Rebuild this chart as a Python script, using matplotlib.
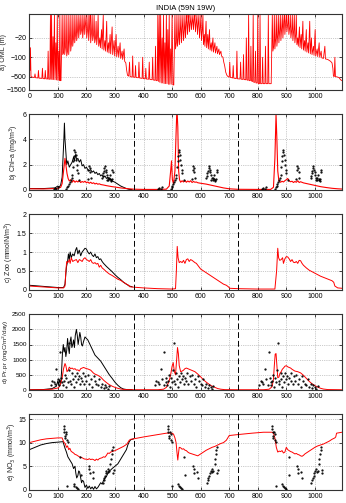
import matplotlib
matplotlib.use("Agg")
import matplotlib.pyplot as plt
import numpy as np

plt.rcParams['font.family'] = ['Liberation Sans', 'DejaVu Sans']

# a) mixed layer depth (m, positive down), day / depth pairs
mld_day = [0, 2, 4, 6, 10, 18, 20, 22, 30, 32, 34, 44, 46, 48, 54, 56, 58, 64, 66, 68,
           72, 74, 76, 78, 80, 83, 85, 88, 90, 93, 95, 98, 100, 103, 105, 107, 109, 111, 113, 115,
           117, 120, 122, 124, 127, 129, 131, 134, 136, 138, 141, 143, 145, 148, 150, 152, 155, 157, 159, 162,
           164, 166, 169, 171, 173, 176, 178, 180, 183, 185, 187, 190, 192, 194, 197, 199, 201, 204, 206, 208,
           211, 213, 215, 218, 220, 222, 225, 227, 229, 232, 234, 236, 239, 241, 243, 247, 249, 253, 255, 259,
           261, 265, 267, 271, 273, 277, 279, 283, 285, 290, 292, 297, 299, 304, 306, 311, 313, 318, 320, 325,
           327, 332, 334, 338, 341, 344, 348, 351, 353, 360, 362, 364,
           370, 372, 374, 382, 384, 386, 395, 397, 399, 406, 408, 410, 418, 420, 422, 430, 432, 434, 440, 442,
           444, 448, 450, 452, 455, 457, 460, 462, 465, 467, 470, 472, 475, 477, 480, 482, 485, 487, 490, 492,
           495, 497, 500, 503, 506, 508, 510, 512, 515, 517, 519, 522, 524, 526, 529, 531, 533, 536, 538, 540,
           543, 545, 547, 550, 552, 554, 557, 559, 561, 564, 566, 568, 571, 573, 575, 578, 580, 582, 585, 587,
           589, 592, 594, 596, 599, 601, 603, 606, 608, 610, 613, 615, 619, 621, 625, 627, 631, 633, 637, 639,
           643, 645, 650, 652, 657, 659, 664, 666, 671, 673, 678, 681, 684, 688, 692, 696, 700, 702, 704, 712,
           714, 716, 725, 727, 729,
           738, 740, 742, 748, 750, 752, 758, 760, 762, 766, 768, 770, 774, 776, 778, 782, 784, 786, 790, 792,
           794, 798, 800, 802, 806, 808, 810, 815, 817, 819, 825, 827, 829, 835, 837, 839, 845, 847, 849, 851,
           853, 856, 858, 860, 863, 865, 867, 870, 872, 874, 877, 879, 881, 884, 886, 888, 891, 893, 895, 898,
           900, 902, 905, 907, 909, 912, 914, 916, 919, 921, 923, 926, 928, 930, 933, 935, 937, 940, 942, 946,
           948, 952, 954, 958, 960, 964, 966, 970, 972, 976, 978, 982, 984, 988, 990, 995, 997, 1001, 1003, 1008,
           1010, 1015, 1017, 1022, 1024, 1030, 1035, 1037, 1045, 1050, 1055, 1060, 1063, 1065, 1068, 1070, 1072, 1080, 1085, 1090,
           1095]
mld_m = [150, 300, 45, 500, 520, 540, 400, 550, 560, 300, 570, 580, 250, 590, 600, 300, 600, 610, 60, 620,
         620, 3, 630, 3, 640, 18, 640, 3, 650, 30, 660, 3, 680, 60, 690, 3, 700, 700, 60, 3,
         80, 70, 3, 80, 40, 3, 90, 60, 3, 80, 20, 3, 60, 30, 3, 40, 20, 3, 30, 15,
         3, 25, 10, 3, 20, 8, 3, 15, 10, 3, 20, 8, 3, 15, 6, 3, 20, 10, 3, 25,
         8, 3, 30, 12, 3, 25, 15, 3, 30, 20, 5, 35, 15, 3, 40, 20, 45, 10, 50, 3,
         55, 25, 60, 5, 65, 30, 70, 15, 75, 8, 80, 25, 90, 15, 95, 40, 100, 30, 110, 60,
         120, 50, 140, 160, 300, 450, 480, 150, 500, 520, 90, 520,
         530, 200, 540, 550, 150, 560, 580, 100, 590, 600, 250, 610, 620, 150, 630, 650, 100, 660, 680, 40,
         700, 700, 3, 750, 3, 800, 3, 850, 20, 850, 3, 900, 30, 900, 3, 900, 10, 950, 3, 950,
         50, 950, 3, 1000, 1000, 40, 3, 50, 30, 3, 40, 20, 3, 35, 10, 3, 30, 8, 3, 25,
         10, 3, 20, 5, 3, 15, 5, 3, 12, 5, 3, 10, 5, 3, 10, 4, 3, 12, 5, 3,
         15, 6, 3, 20, 8, 3, 25, 10, 3, 35, 15, 40, 5, 45, 15, 50, 10, 55, 30, 60,
         20, 65, 30, 70, 40, 75, 50, 80, 60, 90, 100, 150, 200, 350, 450, 500, 520, 150, 530, 560,
         200, 570, 590, 60, 600,
         610, 150, 620, 630, 80, 640, 650, 20, 660, 680, 3, 700, 700, 40, 720, 750, 3, 800, 800, 60,
         850, 850, 3, 900, 900, 3, 900, 900, 100, 900, 900, 40, 900, 900, 3, 900, 900, 900, 50, 3,
         60, 40, 3, 50, 20, 3, 40, 15, 3, 30, 10, 3, 25, 8, 3, 20, 5, 3, 15, 5,
         3, 12, 6, 3, 15, 8, 3, 20, 10, 3, 25, 10, 3, 30, 15, 3, 35, 20, 40, 8,
         45, 15, 50, 5, 55, 25, 60, 10, 65, 30, 70, 5, 75, 20, 80, 40, 85, 10, 90, 50,
         95, 30, 100, 60, 105, 110, 40, 115, 120, 130, 140, 160, 250, 480, 500, 100, 500, 520, 550, 650,
         700]

# b) chlorophyll-a (mg/m3)
chl_day = [0, 50, 90, 100, 110, 115, 120, 125, 128, 132, 136, 140, 145, 150, 155, 160, 165, 170, 175, 180,
           185, 190, 195, 200, 205, 210, 215, 220, 225, 230, 235, 240, 245, 250, 260, 270, 280, 290, 300, 320,
           340, 365, 400, 450, 480, 490, 495, 498, 501, 505, 510, 514, 517, 520, 523, 526, 530, 535, 540, 545,
           550, 555, 560, 565, 570, 575, 580, 585, 590, 600, 620, 640, 660, 680, 700, 730, 800, 845, 855, 860,
           864, 867, 870, 874, 880, 885, 890, 895, 900, 905, 910, 915, 920, 925, 930, 935, 940, 945, 950, 960,
           980, 1000, 1020, 1040, 1060, 1080, 1095]
chl_red = [0.08, 0.07, 0.1, 0.12, 0.2, 0.5, 1.5, 2.5, 2.0, 1.3, 0.9, 0.7, 0.8, 0.6, 0.75, 0.6, 0.7, 0.62, 0.72, 0.58,
           0.66, 0.6, 0.68, 0.56, 0.62, 0.52, 0.6, 0.5, 0.56, 0.46, 0.52, 0.44, 0.48, 0.42, 0.38, 0.33, 0.29, 0.25, 0.22, 0.15,
           0.1, 0.05, 0.03, 0.03, 0.05, 0.3, 1.5, 2.3, 0.8, 0.5, 1.5, 4.5, 6.5, 5.0, 1.5, 0.8, 0.6, 0.72, 0.62, 0.74,
           0.6, 0.7, 0.62, 0.72, 0.58, 0.66, 0.6, 0.62, 0.56, 0.52, 0.45, 0.35, 0.25, 0.15, 0.08, 0.04, 0.03, 0.03, 0.2, 2.5,
           6.0, 4.0, 1.5, 0.7, 0.6, 0.68, 0.62, 0.72, 0.8, 0.9, 0.7, 0.64, 0.68, 0.58, 0.66, 0.6, 0.72, 0.58, 0.64, 0.55,
           0.45, 0.35, 0.25, 0.18, 0.12, 0.08, 0.06]
chl1_day = [0, 50, 90, 100, 105, 110, 115, 118, 121, 123, 125, 128, 131, 135, 140, 145, 150, 155, 158, 162,
            166, 170, 175, 180, 185, 190, 195, 200, 205, 210, 215, 220, 225, 230, 235, 240, 245, 250, 255, 260,
            265, 270, 275, 280, 285, 290, 300, 310, 320, 330, 340, 350, 360]
chl1 = [0.1, 0.1, 0.15, 0.3, 0.2, 0.4, 1.0, 2.5, 4.0, 5.3, 4.0, 3.0, 2.0, 2.3, 1.8, 2.0, 2.2, 2.6, 2.3, 2.8,
        2.4, 2.5, 2.2, 2.4, 1.9, 2.0, 1.7, 1.8, 1.6, 1.5, 1.6, 1.4, 1.5, 1.3, 1.4, 1.2, 1.3, 1.1, 1.2, 1.0,
        1.1, 0.9, 1.0, 0.8, 0.85, 0.7, 0.6, 0.45, 0.3, 0.2, 0.1, 0.03, 0.02]
chl_obs_doy = [85, 90, 95, 100, 130, 133, 136, 139, 142, 145, 148, 150, 152, 154, 156, 158, 160, 162, 164, 166,
               168, 170, 175, 205, 207, 209, 211, 213, 215, 255, 257, 259, 261, 263, 265, 267, 269, 271, 273, 275,
               277, 279, 281, 283, 285, 287, 289, 291, 293]
chl_obs = [0.1, 0.15, 0.05, 0.2, 0.1, 0.2, 0.3, 0.45, 0.6, 0.75, 0.9, 1.2, 1.8, 2.3, 2.7, 3.2, 3.0, 2.8, 2.4, 2.0,
           1.6, 1.3, 0.8, 0.85, 1.6, 1.9, 1.7, 1.4, 0.9, 0.9, 1.1, 1.3, 1.5, 1.7, 1.9, 1.6, 1.4, 1.2, 0.8, 0.9,
           0.75, 0.9, 1.2, 0.85, 0.8, 0.7, 0.85, 1.6, 1.4]

# c) zooplankton (mmolN/m3)
zoo_day = [0, 20, 40, 60, 80, 100, 120, 125, 128, 131, 135, 140, 143, 147, 152, 158, 165, 170, 175, 180,
           185, 190, 195, 200, 205, 210, 215, 220, 225, 230, 235, 240, 245, 250, 255, 260, 270, 280, 290, 300,
           310, 320, 330, 340, 348, 352, 365, 400, 450, 500, 512, 515, 518, 521, 525, 530, 535, 540, 545, 550,
           555, 560, 565, 570, 575, 580, 585, 590, 595, 600, 610, 620, 630, 640, 650, 660, 670, 680, 690, 697,
           702, 730, 800, 860, 866, 870, 873, 877, 882, 887, 890, 895, 900, 905, 910, 915, 920, 925, 930, 935,
           940, 945, 950, 955, 960, 970, 980, 990, 1000, 1010, 1020, 1030, 1040, 1050, 1060, 1066, 1070, 1080, 1095]
zoo_red = [0.1, 0.09, 0.08, 0.07, 0.06, 0.05, 0.05, 0.1, 0.5, 0.75, 0.72, 0.8, 0.7, 0.85, 0.75, 0.78, 0.8, 0.72, 0.8, 0.78,
           0.75, 0.82, 0.85, 0.8, 0.78, 0.75, 0.8, 0.72, 0.7, 0.72, 0.68, 0.7, 0.6, 0.65, 0.58, 0.55, 0.48, 0.42, 0.38, 0.33,
           0.28, 0.25, 0.2, 0.15, 0.12, 0.08, 0.07, 0.05, 0.03, 0.02, 0.03, 0.5, 1.15, 0.85, 0.72, 0.75, 0.72, 0.78, 0.7, 0.8,
           0.82, 0.75, 0.8, 0.78, 0.75, 0.72, 0.7, 0.65, 0.6, 0.55, 0.5, 0.45, 0.4, 0.35, 0.3, 0.25, 0.2, 0.15, 0.12, 0.08,
           0.04, 0.03, 0.02, 0.02, 0.5, 1.1, 0.85, 0.78, 0.8, 0.85, 0.7, 0.82, 0.88, 0.87, 0.82, 0.75, 0.8, 0.73, 0.72, 0.75,
           0.7, 0.78, 0.77, 0.7, 0.65, 0.58, 0.52, 0.48, 0.44, 0.4, 0.36, 0.33, 0.3, 0.27, 0.24, 0.2, 0.1, 0.05, 0.04]
zoo1_day = [0, 50, 100, 120, 125, 130, 134, 137, 140, 143, 147, 152, 157, 162, 166, 170, 175, 180, 185, 190,
            195, 200, 205, 210, 215, 220, 225, 230, 235, 240, 245, 250, 255, 260, 270, 280, 290, 300, 310, 320,
            330, 340, 350, 360]
zoo1 = [0.12, 0.09, 0.06, 0.06, 0.15, 0.6, 0.75, 0.95, 0.8, 1.0, 0.85, 0.95, 0.9, 1.05, 1.12, 0.95, 1.05, 0.9, 1.0, 1.05,
        1.1, 1.08, 1.0, 0.95, 1.0, 0.92, 0.88, 0.95, 0.85, 0.88, 0.8, 0.82, 0.75, 0.7, 0.62, 0.55, 0.48, 0.4, 0.33, 0.27,
        0.2, 0.15, 0.1, 0.08]

# d) primary production (mgC/m2/day)
pp_day = [0, 50, 80, 100, 105, 110, 115, 120, 125, 128, 132, 136, 140, 145, 150, 155, 160, 165, 170, 175,
          180, 185, 190, 195, 200, 205, 210, 215, 220, 225, 230, 240, 250, 260, 270, 280, 290, 300, 310, 320,
          335, 365, 450, 470, 480, 490, 495, 500, 504, 508, 512, 516, 519, 522, 525, 530, 535, 540, 545, 550,
          555, 560, 570, 580, 590, 600, 610, 620, 630, 640, 650, 660, 670, 685, 730, 820, 840, 850, 855, 858,
          861, 864, 867, 870, 874, 878, 882, 886, 890, 895, 900, 905, 910, 915, 920, 930, 940, 950, 960, 970,
          980, 990, 1000, 1010, 1020, 1030, 1045, 1095]
pp_red = [0, 5, 20, 60, 100, 200, 400, 700, 870, 800, 600, 650, 750, 700, 720, 680, 700, 650, 660, 620,
          700, 720, 740, 720, 700, 690, 670, 650, 600, 550, 520, 480, 420, 320, 240, 170, 120, 80, 50, 25,
          8, 2, 2, 20, 80, 300, 500, 780, 900, 600, 500, 1000, 1400, 1200, 800, 600, 620, 650, 700, 720,
          700, 680, 640, 600, 520, 430, 330, 250, 180, 120, 80, 40, 20, 5, 2, 2, 20, 100, 350, 800,
          1180, 1200, 800, 400, 420, 550, 600, 680, 720, 780, 800, 760, 740, 720, 680, 620, 600, 560, 480, 380,
          280, 200, 140, 90, 50, 25, 8, 2]
pp1_day = [0, 50, 80, 95, 100, 103, 106, 110, 113, 116, 119, 122, 125, 128, 131, 134, 137, 140, 143, 146,
           149, 152, 155, 158, 161, 165, 168, 171, 174, 177, 180, 183, 186, 190, 195, 200, 205, 210, 215, 220,
           230, 240, 245, 250, 260, 270, 280, 290, 300, 310, 320, 330, 340, 360]
pp1 = [0, 10, 40, 120, 300, 150, 330, 200, 600, 1200, 1500, 1250, 1400, 1100, 1300, 1700, 1400, 1200, 1600, 1750,
       1400, 1500, 1650, 1400, 1800, 2000, 1800, 1500, 1700, 1900, 1750, 1500, 1450, 1600, 1750, 1700, 1650, 1550, 1450, 1350,
       1150, 1050, 1000, 950, 800, 650, 500, 380, 250, 150, 70, 25, 10, 2]
pp_obs_doy = [75, 80, 85, 90, 95, 100, 105, 108, 112, 115, 118, 120, 125, 128, 130, 135, 138, 140, 143, 146,
              150, 153, 156, 160, 163, 166, 170, 173, 176, 180, 185, 188, 192, 196, 200, 205, 210, 215, 220, 225,
              230, 235, 240, 245, 250, 255, 260, 265, 270, 275, 280]
pp_obs = [150, 300, 250, 200, 700, 350, 150, 1240, 400, 250, 150, 300, 500, 100, 400, 250, 650, 1540, 300, 200,
          550, 350, 100, 450, 250, 550, 350, 450, 200, 400, 300, 550, 200, 450, 300, 500, 200, 350, 100, 450,
          300, 200, 150, 350, 100, 200, 50, 150, 80, 30, 120]

# e) nitrate (mmol/m3)
no3_day = [0, 20, 40, 60, 80, 100, 115, 118, 122, 126, 130, 134, 138, 142, 146, 150, 155, 160, 165, 170,
           175, 180, 185, 190, 195, 200, 205, 210, 215, 220, 225, 230, 235, 240, 245, 250, 255, 260, 265, 270,
           275, 280, 285, 290, 300, 310, 320, 330, 340, 345, 350, 355, 365, 400, 440, 480, 500, 505, 510, 514,
           517, 520, 522, 525, 530, 535, 540, 545, 550, 555, 560, 565, 570, 575, 580, 585, 590, 595, 600, 610,
           620, 630, 640, 650, 660, 670, 680, 690, 695, 700, 730, 780, 820, 850, 855, 860, 865, 870, 875, 880,
           885, 890, 895, 900, 905, 910, 915, 920, 925, 930, 935, 940, 945, 950, 955, 960, 965, 970, 980, 990,
           1000, 1010, 1020, 1030, 1040, 1050, 1060, 1070, 1073, 1076, 1085, 1095]
no3_red = [10.0, 10.3, 10.6, 10.8, 10.9, 11.0, 11.0, 10.5, 10.0, 9.8, 9.0, 9.3, 8.5, 8.8, 8.2, 8.0, 7.8, 7.5, 7.4, 7.2,
           7.0, 6.9, 6.8, 6.6, 6.5, 6.5, 6.4, 6.6, 6.4, 6.5, 6.4, 6.2, 6.5, 6.3, 6.6, 6.7, 6.8, 7.0, 6.9, 7.3,
           7.8, 7.7, 8.0, 8.1, 8.3, 8.6, 8.9, 9.2, 9.6, 10.0, 10.5, 10.7, 10.8, 11.2, 11.6, 12.0, 12.0, 11.8, 11.0, 10.0,
           8.0, 6.3, 7.5, 9.0, 8.9, 8.6, 8.7, 8.4, 8.3, 8.0, 7.8, 7.7, 7.6, 7.5, 7.4, 7.3, 7.2, 7.4, 7.6, 8.0,
           8.4, 8.7, 9.0, 9.2, 9.5, 9.8, 10.0, 10.5, 11.0, 11.5, 11.7, 12.0, 12.2, 12.2, 12.0, 11.0, 9.0, 8.0, 8.2, 8.1,
           8.3, 7.8, 8.0, 9.0, 8.5, 8.3, 8.1, 8.0, 7.8, 7.6, 7.7, 7.5, 7.4, 7.2, 7.1, 7.3, 7.6, 7.8, 8.2, 8.6,
           9.0, 9.3, 9.5, 9.7, 10.0, 10.3, 10.7, 11.0, 11.2, 12.0, 12.1, 12.2]
no31_day = [0, 20, 40, 60, 80, 100, 118, 120, 125, 130, 135, 140, 145, 150, 155, 160, 163, 166, 170, 173,
            176, 180, 183, 186, 190, 195, 200, 205, 210, 215, 220, 225, 230, 235, 240, 245, 250, 255, 260, 265,
            270, 275, 280, 285, 290, 300, 310, 320, 330, 340, 345, 350, 355, 365]
no31 = [8.5, 9.0, 9.5, 9.8, 10.0, 10.1, 10.2, 9.8, 8.8, 8.0, 7.0, 6.5, 6.0, 5.5, 4.5, 5.0, 3.5, 2.5, 3.0, 4.0,
        3.8, 2.5, 1.5, 2.0, 1.8, 0.5, 1.0, 0.3, 0.8, 0.2, 0.6, 0.1, 0.7, 0.2, 0.5, 1.0, 1.5, 1.2, 2.0, 2.5,
        2.8, 3.5, 4.0, 4.2, 4.5, 5.0, 5.5, 6.5, 7.5, 8.5, 9.5, 10.2, 10.6, 10.8]
no3_obs_doy = [120, 121, 122, 124, 125, 127, 130, 132, 135, 133, 155, 158, 162, 166, 170, 178, 180, 208, 210, 212,
               222, 224, 258, 260, 262, 266, 268, 270, 274, 276, 280, 284, 286, 288, 290, 292, 294, 296]
no3_obs = [13.5, 12.8, 12.3, 11.5, 11.0, 12.3, 11.8, 10.5, 10.2, 0.8, 1.2, 0.8, 0.5, 0.3, 0.2, 7.0, 3.2, 5.0, 4.5, 3.5,
           3.8, 2.5, 1.5, 2.0, 2.5, 3.0, 3.5, 4.0, 4.5, 3.8, 4.0, 5.5, 6.5, 7.5, 8.5, 9.0, 3.5, 4.2]

years = [0, 365, 730]

fig = plt.figure(figsize=(3.46, 5.03), dpi=100)
W, H = 346.0, 503.0


def make_ax(top_px, label, lab_px, lab_size=5):
    ax = fig.add_axes([29.3 / W, 1 - (top_px + 75.5) / H, (342 - 29.3) / W, 75.5 / H])
    ax.set_xlim(0, 1095)
    ax.set_xticks(range(0, 1001, 100))
    ax.tick_params(direction='in', length=2.5, width=0.5, labelsize=5, pad=2,
                   top=True, right=True)
    ax.grid(True, linestyle=':', color='#999999', linewidth=0.5)
    for s in ax.spines.values():
        s.set_linewidth(0.8)
        s.set_color('#333333')
    # label centred at a pixel column, like the original
    ax.set_ylabel(label, fontsize=lab_size, color='#222222', va='center')
    ax.yaxis.set_label_coords((lab_px - 29.3) / 312.7, 0.5)
    return ax


def obs_dots(ax, doy, vals):
    for y0 in years:
        ax.plot(np.array(doy) + y0, vals, 'k.', markersize=1.2)


def year_lines(ax):
    for x in years[1:]:
        ax.axvline(x, color='k', linestyle=(0, (6, 3)), linewidth=0.7)


# a
ax = make_ax(14.3, 'a) OML (m)', 3.5)
ax.plot(mld_day, mld_m, color='red', linewidth=0.6)
ax.set_yscale('log')
ax.set_ylim(1500, 2.8)
ax.set_yticks([20, 100, 500, 1500])
ax.set_yticklabels(['\u221220', '\u2212100', '\u2212500', '\u22121500'])
ax.minorticks_off()
ax.set_title('INDIA (59N 19W)', fontsize=5.5, pad=3)

# b
ax = make_ax(114.3, 'b) Chl\u2212a (mg/m$^3$)', 14)
ax.plot(chl1_day, chl1, color='k', linewidth=0.7)
ax.plot(chl_day, chl_red, color='red', linewidth=0.8)
obs_dots(ax, chl_obs_doy, chl_obs)
year_lines(ax)
ax.set_ylim(0, 6)
ax.set_yticks([0, 2, 4, 6])

# c
ax = make_ax(214.3, 'c) Zoo (mmolN/m$^3$)', 9.5)
ax.plot(zoo1_day, zoo1, color='k', linewidth=0.7)
ax.plot(zoo_day, zoo_red, color='red', linewidth=0.7)
year_lines(ax)
ax.set_ylim(0, 2)
ax.set_yticks([0, 0.5, 1, 1.5, 2])
ax.set_yticklabels(['0', '0.5', '1', '1.5', '2'])

# d
ax = make_ax(314.3, 'd) Pr.pr (mgC/m$^2$/day)', 5.5, 4.6)
ax.plot(pp1_day, pp1, color='k', linewidth=0.7)
ax.plot(pp_day, pp_red, color='red', linewidth=0.7)
obs_dots(ax, pp_obs_doy, pp_obs)
year_lines(ax)
ax.set_ylim(0, 2500)
ax.set_yticks([0, 500, 1000, 1500, 2000, 2500])
ax.tick_params(axis='y', labelsize=4.6)

# e
ax = make_ax(414.3, 'e) NO$_3$ (mmol/m$^3$)', 12)
ax.plot(no31_day, no31, color='k', linewidth=0.7)
ax.plot(no3_day, no3_red, color='red', linewidth=0.7)
obs_dots(ax, no3_obs_doy, no3_obs)
year_lines(ax)
ax.set_ylim(0, 16)
ax.set_yticks([0, 5, 10, 15])

fig.savefig('out.png', dpi=100)
